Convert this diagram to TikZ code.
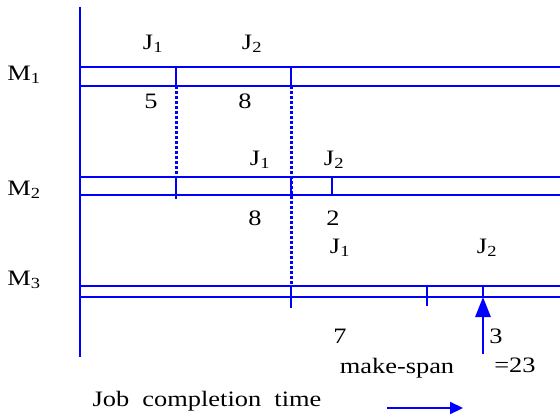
\documentclass[tikz,border=0pt]{standalone}
\usepackage{fontspec}
\setmainfont{Liberation Serif}[FakeStretch=1.2]
\usepackage{tikz}
\usetikzlibrary{arrows, arrows.meta}

\definecolor{chartblue}{RGB}{0,0,255}
\newcommand{\sub}[1]{\textsubscript{#1}}

\tikzset{
  barline/.style={draw=chartblue, line width=2.9pt},
  dotline/.style={draw=chartblue, line width=3pt, dash pattern=on 2.7pt off 2.3pt},
  label/.style={inner sep=0pt, font=\fontsize{22}{26}\selectfont}
}

\begin{document}
\begin{tikzpicture}[x=1pt, y=-1pt]

	    \useasboundingbox (0,0) rectangle (560,418);

	    % time axis
	    \coordinate (axtop) at (80,7);
	    \coordinate (axbot) at (80,357);
		\draw [barline] (axtop) -- (axbot);

	    %%%%%%%%%%%%%%%%%%%%%%%%%%%%%%%%%%%%%%%%%%%%%%%%%%%%%%%%%%%%%%%%%%%%%
	    % machine M1

	    \node [label] (m1) at (24,75) {M\sub{1}};
		\draw [barline] (80,67) -- (560,67);
		\draw [barline] (80,86) -- (560,86);
		\draw [barline] (176,67) -- (176,86);
		\draw [barline] (291,67) -- (291,86);

	    \node [label] (m1j1) at (153,44) {J\sub{1}};
	    \node [label] (m1j2) at (252,44) {J\sub{2}};
	    \node [label] (m1t1) at (151,101) {5};
	    \node [label] (m1t2) at (245,101) {8};

	    %%%%%%%%%%%%%%%%%%%%%%%%%%%%%%%%%%%%%%%%%%%%%%%%%%%%%%%%%%%%%%%%%%%%%
	    % machine M2

	    \node [label] (m2) at (24,190) {M\sub{2}};
		\draw [dotline] (176,86) -- (176,177);
		\draw [dotline] (291,86) -- (291,286);
		\draw [barline] (80,177) -- (560,177);
		\draw [barline] (80,195) -- (560,195);
		\draw [barline] (176,177) -- (176,199);
		\draw [barline] (291,177) -- (291,195);
		\draw [barline] (332,177) -- (332,195);

	    \node [label] (m2j1) at (260,160) {J\sub{1}};
	    \node [label] (m2j2) at (334,160) {J\sub{2}};
	    \node [label] (m2t1) at (255,218) {8};
	    \node [label] (m2t2) at (333,218) {2};

	    %%%%%%%%%%%%%%%%%%%%%%%%%%%%%%%%%%%%%%%%%%%%%%%%%%%%%%%%%%%%%%%%%%%%%
	    % machine M3

	    \node [label] (m3) at (24,280) {M\sub{3}};
		\draw [barline] (80,286) -- (560,286);
		\draw [barline] (80,297) -- (560,297);
		\draw [barline] (291,286) -- (291,308);
		\draw [barline] (427,286) -- (427,306);
		\draw [barline] (483,286) -- (483,297);

	    \node [label] (m3j1) at (340,248) {J\sub{1}};
	    \node [label] (m3j2) at (487,248) {J\sub{2}};
	    \node [label] (m3t1) at (340,336) {7};
	    \node [label] (m3t2) at (496,336) {3};

	    % make-span marker
	    \coordinate (spanend) at (483,297);
	    \coordinate (spanfoot) at (483,354);
		\draw [barline, -{Triangle[length=20pt, width=15pt]}] (spanfoot) -- (spanend);
	    \node [label, anchor=base] (span) at (397,373) {make-span};
	    \node [label, anchor=base] (spanval) at (515,372) {=23};

	    %%%%%%%%%%%%%%%%%%%%%%%%%%%%%%%%%%%%%%%%%%%%%%%%%%%%%%%%%%%%%%%%%%%%%

	    \node [label] (jct) at (207,401) {Job\ \ completion\ \ time};
	    \coordinate (dirfrom) at (387,408);
	    \coordinate (dirto) at (463,408);
		\draw [draw=chartblue, line width=2.2pt, -{Triangle[length=13pt, width=12pt]}] (dirfrom) -- (dirto);

\end{tikzpicture}
\end{document}
